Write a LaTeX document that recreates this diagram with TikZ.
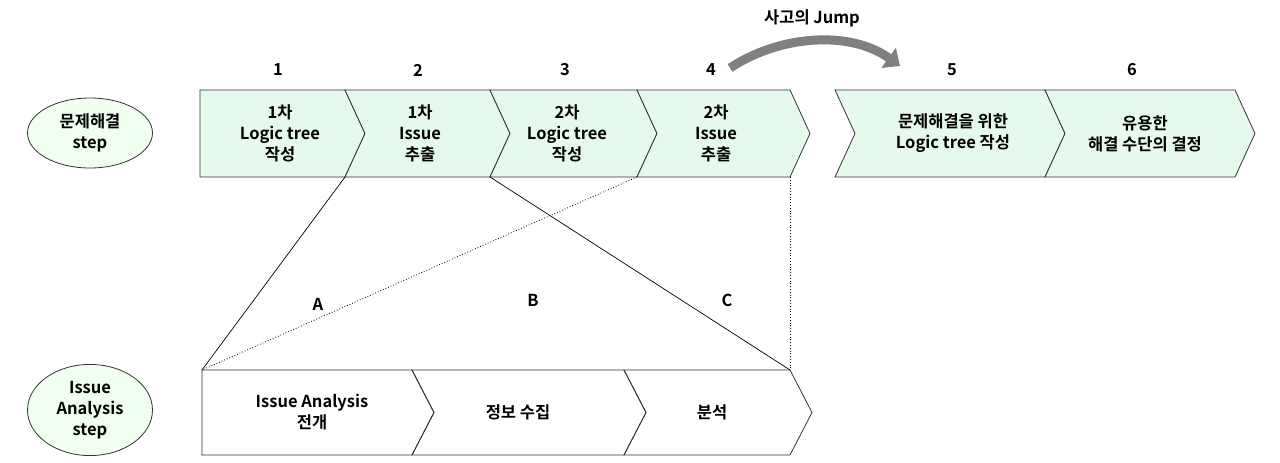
\documentclass[tikz,border=0pt]{standalone}
\usepackage{fontspec}
\usetikzlibrary{shapes.geometric,arrows.meta}
\setmainfont{Noto Sans CJK KR}[BoldFont={Noto Sans CJK KR Bold}]
\begin{document}
\begin{tikzpicture}[x=1pt,y=-1pt,
  chev/.style={draw=black!80,line width=0.8pt},
  lab/.style={font=\fontsize{16.5}{21}\selectfont\bfseries,align=center},
  ell/.style={draw=black!80,fill=green!6,ellipse,minimum width=125,minimum height=70,line width=0.8pt,lab}]
\useasboundingbox (0,0) rectangle (1280,463);
\colorlet{cg}{green!50!teal!10}
% top chevrons
\def\ty{90}\def\by{177}\def\my{133.5}
\draw[chev,fill=cg] (200,\ty)--(345,\ty)--(365,\my)--(345,\by)--(200,\by)--cycle;
\foreach \a/\b in {345/490,490/637,637/790}
  \draw[chev,fill=cg] (\a,\ty)--(\b,\ty)--(\b+20,\my)--(\b,\by)--(\a,\by)--(\a+20,\my)--cycle;
\foreach \a/\b in {835/1045,1045/1235}
  \draw[chev,fill=cg] (\a,\ty)--(\b,\ty)--(\b+20,\my)--(\b,\by)--(\a,\by)--(\a+20,\my)--cycle;
\node[lab] (t1) at (280,\my) {1차\\Logic tree\\작성};
\node[lab] (t2) at (420,\my) {1차\\Issue\\추출};
\node[lab] (t3) at (567,\my) {2차\\Logic tree\\작성};
\node[lab] (t4) at (716,\my) {2차\\Issue\\추출};
\node[lab] (t5) at (953,\my) {문제해결을 위한\\Logic tree 작성};
\node[lab] (t6) at (1145,\my) {유용한\\해결 수단의 결정};
\foreach \x/\n in {278/1,418/2,565/3,711/4,952/5,1132/6}
  \node[lab] (n\n) at (\x,70) {\n};
% bottom chevrons
\def\tyb{370}\def\byb{455}\def\myb{412.5}
\draw[chev] (202,\tyb)--(412,\tyb)--(434,\myb)--(412,\byb)--(202,\byb)--cycle;
\foreach \a/\b in {412/624,624/790}
  \draw[chev] (\a,\tyb)--(\b,\tyb)--(\b+22,\myb)--(\b,\byb)--(\a,\byb)--(\a+22,\myb)--cycle;
\node[lab] (b1) at (312,\myb) {Issue Analysis\\전개};
\node[lab] (b2) at (518,\myb) {정보 수집};
\node[lab] (b3) at (712,\myb) {분석};
% ellipses
\node[ell] (e1) at (90,133) {문제해결\\step};
\node[ell] (e2) at (90,410) {Issue\\Analysis\\step};
% connectors
\coordinate (c1) at (345,\by); \coordinate (c2) at (490,\by);
\coordinate (c3) at (637,\by); \coordinate (c4) at (790,\by);
\coordinate (d1) at (202,\tyb); \coordinate (d2) at (790,\tyb);
\draw[line width=0.7pt] (c1)--(d1);
\draw[line width=0.7pt] (c2)--(d2);
\draw[dotted,line width=0.8pt] (c3)--(d1);
\draw[dotted,line width=0.8pt] (c4)--(d2);
\node[lab] (A) at (318,304) {A};
\node[lab] (B) at (533,300) {B};
\node[lab] (C) at (727,300) {C};
% jump arrow
\coordinate (j1) at (730,68); \coordinate (j2) at (900,66);
\draw[gray,line width=9pt,-{Triangle[length=14pt,width=24pt]}] (j1) .. controls (780,35) and (850,30) .. (j2);
\node[lab] (jt) at (812,18) {사고의 Jump};
\end{tikzpicture}
\end{document}
